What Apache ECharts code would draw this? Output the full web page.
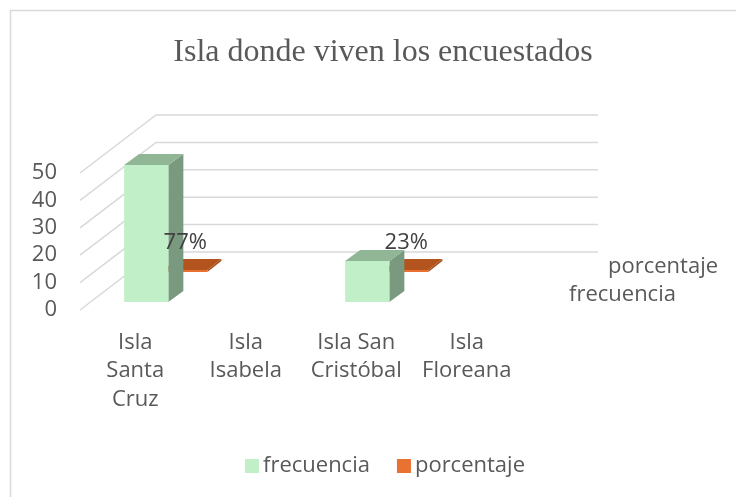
<!DOCTYPE html>
<html>
<head>
<meta charset="utf-8">
<script src="https://cdn.jsdelivr.net/npm/echarts@6/dist/echarts.min.js"></script>
<style>
  html, body { margin: 0; padding: 0; background: #fff; }
  #chart { width: 736px; height: 497px; }
</style>
</head>
<body>
<div id="chart"></div>
<script>
// datos de la encuesta
const categories = ['Isla Santa Cruz', 'Isla Isabela', 'Isla San Cristóbal', 'Isla Floreana']
const categoryLines = ['Isla\nSanta\nCruz', 'Isla\nIsabela', 'Isla San\nCristóbal', 'Isla\nFloreana']
const frecuencia = [50, null, 15, null]
const porcentaje = [0.77, null, 0.23, null]
const yTicks = [0, 10, 20, 30, 40, 50]

const FONT = '"Open Sans", "Liberation Sans", sans-serif'
const GRAY = '#595959'

// desplazamientos de profundidad (pseudo 3D)
const WALL = [76, -58]
const FREC_OFF = [11, -8], FREC_DEPTH = [15, -11]
const PORC_OFF = [50, -38], PORC_DEPTH = [14, -11]

function barGeom(api, offset) {
    const val = api.value(1)
    const cat = api.value(0)
    const base = api.coord([cat, 0])
    const tip = api.coord([cat, val])
    const w = api.size([1, 0])[0] * 0.4
    const xl = base[0] - w / 2 + offset[0]
    const yb = base[1] + offset[1]
    let yt = tip[1] + offset[1]
    if (yb - yt < 2) yt = yb - 2
    return { val, xl, xr: xl + w, yb, yt, w }
}

function barRenderer(offset, depth, colors) {
    return function (params, api) {
        if (api.value(1) == null || isNaN(api.value(1))) return
        const g = barGeom(api, offset)
        const dx = depth[0], dy = depth[1]
        return {
            type: 'group',
            children: [
                {
                    type: 'polygon',
                    shape: { points: [[g.xr, g.yt], [g.xr + dx, g.yt + dy], [g.xr + dx, g.yb + dy], [g.xr, g.yb]] },
                    style: { fill: colors.side }
                },
                {
                    type: 'polygon',
                    shape: { points: [[g.xl, g.yt], [g.xr, g.yt], [g.xr + dx, g.yt + dy], [g.xl + dx, g.yt + dy]] },
                    style: { fill: colors.top }
                },
                {
                    type: 'rect',
                    shape: { x: g.xl, y: g.yt, width: g.w, height: g.yb - g.yt },
                    style: { fill: colors.front }
                }
            ]
        }
    }
}

function labelRenderer(offset) {
    return function (params, api) {
        if (api.value(1) == null || isNaN(api.value(1))) return
        const g = barGeom(api, offset)
        return {
            type: 'text',
            style: {
                text: Math.round(g.val * 100) + '%',
                x: (g.xl + g.xr) / 2,
                y: g.yt - 16,
                align: 'center',
                verticalAlign: 'bottom',
                fill: '#404040',
                font: '22px ' + FONT
            }
        }
    }
}

function wallRenderer(params, api) {
    const cs = params.coordSys
    const y = api.coord([0, api.value(1)])[1]
    const x0 = cs.x
    return {
        type: 'polyline',
        shape: {
            points: [[x0, y], [x0 + WALL[0], y + WALL[1]], [x0 + WALL[0] + cs.width, y + WALL[1]]]
        },
        style: { stroke: '#D9D9D9', lineWidth: 1.5, fill: null }
    }
}

const chart = echarts.init(document.getElementById('chart'), null, { renderer: 'canvas' })

const option = {
    backgroundColor: '#fff',
    animation: false,
    title: {
        text: 'Isla donde viven los encuestados',
        left: 378,
        textAlign: 'center',
        top: 32,
        textStyle: {
            fontFamily: '"Liberation Serif", "Times New Roman", serif',
            fontSize: 32,
            fontWeight: 'normal',
            color: GRAY
        }
    },
    legend: {
        data: ['frecuencia', 'porcentaje'],
        left: 240,
        top: 450,
        icon: 'rect',
        itemWidth: 14,
        itemHeight: 14,
        itemGap: 27,
        textStyle: { fontFamily: FONT, fontSize: 22, color: GRAY, padding: [0, 0, 0, -1] }
    },
    grid: { left: 80, top: 173, width: 442, height: 137 },
    xAxis: {
        type: 'category',
        data: categories,
        axisLine: { show: false },
        axisTick: { show: false },
        axisLabel: {
            interval: 0,
            margin: 18,
            fontFamily: FONT,
            fontSize: 22,
            lineHeight: 28.5,
            color: GRAY,
            formatter: (v, i) => categoryLines[i]
        }
    },
    yAxis: {
        type: 'value',
        min: 0,
        max: 50,
        interval: 10,
        axisLine: { show: false },
        axisTick: { show: false },
        splitLine: { show: false },
        axisLabel: { margin: 23, fontFamily: FONT, fontSize: 22, color: GRAY }
    },
    graphic: [
        {
            type: 'rect',
            shape: { x: 10.5, y: 10.5, width: 740, height: 500 },
            style: { fill: null, stroke: '#D9D9D9', lineWidth: 1.5 },
            silent: true
        },
        {
            type: 'text',
            left: 608,
            top: 256,
            style: { text: 'porcentaje', fill: GRAY, font: '22px ' + FONT }
        },
        {
            type: 'text',
            left: 569,
            top: 284,
            style: { text: 'frecuencia', fill: GRAY, font: '22px ' + FONT }
        }
    ],
    series: [
        {
            name: 'walls',
            type: 'custom',
            silent: true,
            z: 1,
            data: yTicks.map(t => [0, t]),
            renderItem: wallRenderer
        },
        {
            name: 'porcentaje',
            type: 'custom',
            z: 2,
            itemStyle: { color: '#E97132' },
            data: porcentaje.map((v, i) => [i, v]),
            renderItem: barRenderer(PORC_OFF, PORC_DEPTH, { front: '#E97132', side: '#A84C1B', top: '#B3531E' })
        },
        {
            name: 'frecuencia',
            type: 'custom',
            z: 3,
            itemStyle: { color: '#C1F0C8' },
            data: frecuencia.map((v, i) => [i, v]),
            renderItem: barRenderer(FREC_OFF, FREC_DEPTH, { front: '#C1F0C8', side: '#7A9A7F', top: '#90B695' })
        },
        {
            name: 'porcentaje',
            type: 'custom',
            z: 4,
            silent: true,
            itemStyle: { color: '#E97132' },
            data: porcentaje.map((v, i) => [i, v]),
            renderItem: labelRenderer(PORC_OFF)
        }
    ]
}

chart.setOption(option)
</script>
</body>
</html>
